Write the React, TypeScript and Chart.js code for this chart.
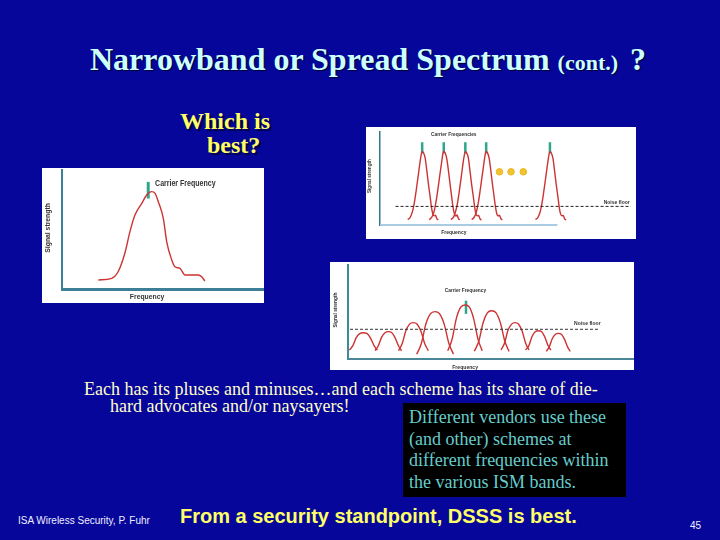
import React, { useEffect, useRef } from 'react';
import { Chart, registerables } from 'chart.js';

Chart.register(...registerables);

// ---------------- Narrowband (single carrier) ----------------
const nbFreq = [18.1, 24.7, 27.9, 31.3, 33.8, 36.3, 39.7, 42.1, 44.6, 46.3, 47.9, 50.4, 52.1, 54.6, 56.2, 58.7, 61.2, 64.5, 67.8, 69.5, 71.1];
const nbLevel = [7.6, 9.0, 14.5, 30.3, 48.2, 62.2, 72.0, 79.0, 81.8, 80.4, 73.4, 59.4, 39.7, 24.4, 18.7, 17.4, 11.8, 11.8, 11.8, 10.3, 6.7];
const nbCarrier = 42.9;
const nbTick = [76, 90];

// ---------------- Frequency hopping (several carriers) ----------------
const hop1 = [[11.0, 6.0], [11.9, 7.7], [12.8, 13.3], [13.6, 22.8], [14.4, 36.8], [15.2, 52.6], [15.9, 66.7], [16.4, 75.4], [16.8, 78.9], [17.3, 77.9], [18.0, 71.9], [18.6, 59.6], [19.3, 43.9], [20.0, 29.8], [20.5, 19.3], [21.0, 12.3], [21.6, 9.8], [22.1, 10.5], [22.6, 7.0], [23.2, 5.3]];
const hop2 = [[19.6, 5.8], [20.5, 7.9], [21.4, 13.0], [22.2, 23.2], [23.0, 37.0], [23.8, 53.0], [24.5, 66.4], [25.0, 75.8], [25.4, 79.2], [25.9, 78.0], [26.6, 71.5], [27.2, 59.9], [27.9, 44.2], [28.6, 29.5], [29.1, 19.0], [29.6, 12.6], [30.2, 9.6], [30.7, 10.8], [31.2, 7.2], [31.8, 5.5]];
const hop3 = [[28.2, 6.1], [29.1, 7.6], [30.0, 13.5], [30.8, 22.5], [31.6, 36.5], [32.4, 52.2], [33.1, 66.9], [33.6, 75.2], [34.0, 78.7], [34.5, 77.6], [35.2, 72.2], [35.8, 59.3], [36.5, 43.6], [37.2, 30.1], [37.7, 19.6], [38.2, 12.0], [38.8, 10.0], [39.3, 10.3], [39.8, 6.8], [40.4, 5.2]];
const hop4 = [[36.5, 5.9], [37.4, 7.8], [38.3, 13.1], [39.1, 23.0], [39.9, 37.1], [40.7, 52.8], [41.4, 66.5], [41.9, 75.6], [42.3, 79.0], [42.8, 77.8], [43.5, 71.7], [44.1, 59.7], [44.8, 44.0], [45.5, 29.6], [46.0, 19.4], [46.5, 12.4], [47.1, 9.7], [47.6, 10.6], [48.1, 7.1], [48.7, 5.4]];
const hop5 = [[61.9, 6.0], [62.8, 7.7], [63.7, 13.2], [64.5, 22.9], [65.3, 36.9], [66.1, 52.5], [66.8, 66.6], [67.3, 75.5], [67.7, 78.8], [68.2, 77.7], [68.9, 71.8], [69.5, 59.5], [70.2, 43.8], [70.9, 29.9], [71.4, 19.2], [71.9, 12.2], [72.5, 9.9], [73.0, 10.4], [73.5, 6.9], [74.1, 5.3]];
const hopCarriers = [16.8, 25.4, 34.0, 42.3, 67.7];
const hopTick = [77, 89];
const hopNoiseFloor = 20;
const hopNoiseSpan = [6.2, 99.9];
const hopDotsX = [47.6, 52.2, 57.1];
const hopDotsY = 57.2;
const hopAxisSpan = [0, 70.7];

// ---------------- Direct sequence (spread lobes) ----------------
const lobeA = [[0.5, 9.6], [1.7, 14.2], [2.9, 22.7], [4.1, 27.0], [5.4, 28.0], [6.6, 27.2], [7.9, 22.3], [9.1, 14.4], [10.3, 9.4]];
const lobeB = [[9.5, 8.9], [10.6, 13.8], [11.8, 23.2], [13.0, 28.0], [14.2, 29.1], [15.3, 28.2], [16.5, 22.8], [17.7, 14.1], [18.8, 8.7]];
const lobeC = [[17.7, 8.9], [19.0, 16.2], [20.3, 30.0], [21.6, 37.1], [22.9, 38.7], [24.2, 37.3], [25.6, 29.6], [26.9, 16.5], [28.2, 8.8]];
const lobeD = [[24.1, 5.0], [25.7, 16.2], [27.3, 37.0], [28.9, 48.0], [30.5, 50.4], [32.1, 48.2], [33.8, 36.6], [35.4, 16.5], [37.0, 5.2]];
const lobeE = [[35.0, 8.9], [36.5, 20.8], [38.0, 43.0], [39.5, 54.9], [41.1, 57.4], [42.6, 55.1], [44.1, 42.7], [45.6, 21.2], [47.1, 8.8]];
const lobeF = [[44.3, 8.2], [45.9, 18.8], [47.4, 38.6], [48.9, 49.1], [50.4, 51.4], [51.9, 49.3], [53.5, 38.2], [55.0, 19.2], [56.5, 8.1]];
const lobeG = [[53.7, 9.6], [54.9, 16.7], [56.1, 30.2], [57.4, 37.1], [58.6, 38.7], [59.8, 37.3], [61.1, 29.8], [62.3, 17.1], [63.5, 9.5]];
const lobeH = [[62.3, 9.6], [63.5, 14.5], [64.6, 24.2], [65.7, 29.0], [66.8, 30.1], [67.9, 29.2], [69.0, 23.8], [70.1, 14.9], [71.2, 9.4]];
const lobeI = [[69.6, 8.2], [70.6, 12.8], [71.7, 21.8], [72.8, 26.3], [73.8, 27.3], [74.9, 26.4], [75.9, 21.4], [77.0, 13.2], [78.0, 8.1]];
const dsssCarrier = 41.4;
const dsssTick = [48, 62];
const dsssNoiseFloor = 31.6;
const dsssNoiseSpan = [0.7, 88.4];

// ---------------- helpers ----------------
const RED = '#cc3333';
const TEAL = '#2fa58c';

const pts = (arr) => arr.map(([x, y]) => ({ x, y }));

const curve = (arr, color = RED, width = 1.4) => ({
  data: pts(arr),
  borderColor: color,
  borderWidth: width,
  pointRadius: 0,
  cubicInterpolationMode: 'monotone',
  fill: false,
  clip: false,
});

const segment = (x0, y0, x1, y1, color, width, dash = []) => ({
  data: [{ x: x0, y: y0 }, { x: x1, y: y1 }],
  borderColor: color,
  borderWidth: width,
  borderDash: dash,
  pointRadius: 0,
  tension: 0,
  fill: false,
  clip: false,
});

const makeTextPlugin = (items) => ({
  id: 'slideText',
  afterDatasetsDraw(chart) {
    const { ctx } = chart;
    const xs = chart.scales.x;
    const ys = chart.scales.y;
    items.forEach((it) => {
      ctx.save();
      ctx.font = it.font;
      ctx.fillStyle = it.color || '#222';
      ctx.textAlign = it.align || 'center';
      ctx.textBaseline = 'middle';
      ctx.translate(xs.getPixelForValue(it.x), ys.getPixelForValue(it.y));
      if (it.rotate) ctx.rotate((it.rotate * Math.PI) / 180);
      if (it.sx) ctx.scale(it.sx, 1);
      ctx.fillText(it.text, 0, 0);
      ctx.restore();
    });
  },
});

const axis = (border) => ({
  type: 'linear',
  min: 0,
  max: 100,
  display: true,
  grid: { display: false, drawTicks: false },
  ticks: { display: false },
  border,
});

const baseOptions = (padding, xBorder, yBorder) => ({
  responsive: false,
  animation: false,
  events: [],
  layout: { padding },
  plugins: { legend: { display: false }, tooltip: { enabled: false } },
  scales: { x: axis(xBorder), y: axis(yBorder) },
});

function SlideChart({ left, top, width, height, build }) {
  const ref = useRef(null);
  useEffect(() => {
    const chart = new Chart(ref.current, build());
    return () => chart.destroy();
  }, []);
  return (
    <canvas
      ref={ref}
      width={width}
      height={height}
      style={{ position: 'absolute', left, top, width, height, background: '#ffffff' }}
    />
  );
}

const buildNarrow = () => ({
  type: 'line',
  data: {
    datasets: [
      curve(nbFreq.map((f, i) => [f, nbLevel[i]])),
      segment(nbCarrier, nbTick[0], nbCarrier, nbTick[1], TEAL, 3),
    ],
  },
  options: baseOptions(
    { left: 20, right: 1, top: 2, bottom: 14 },
    { display: true, color: '#3d7f99', width: 3 },
    { display: true, color: '#3d7f99', width: 2 }
  ),
  plugins: [
    makeTextPlugin([
      { text: 'Carrier Frequency', x: 46.3, y: 89, align: 'left', font: 'bold 9px "Liberation Sans", Arial, sans-serif', sx: 0.78, color: '#333' },
      { text: 'Frequency', x: 42.3, y: -6.7, font: 'bold 8px "Liberation Sans", Arial, sans-serif', sx: 0.85, color: '#333' },
      { text: 'Signal strength', x: -7.0, y: 51.3, rotate: -90, font: 'bold 8px "Liberation Sans", Arial, sans-serif', sx: 0.85, color: '#333' },
    ]),
  ],
});

const buildHopping = () => {
  const ticks = [];
  hopCarriers.forEach((c) => {
    ticks.push({ x: c, y: hopTick[0] }, { x: c, y: hopTick[1] }, { x: c, y: null });
  });
  return {
    type: 'line',
    data: {
      datasets: [
        segment(hopAxisSpan[0], 0, hopAxisSpan[1], 0, '#a9cce3', 2),
        segment(hopNoiseSpan[0], hopNoiseFloor, hopNoiseSpan[1], hopNoiseFloor, '#222', 1, [3, 2]),
        curve(hop1),
        curve(hop2),
        curve(hop3),
        curve(hop4),
        curve(hop5),
        {
          data: ticks,
          borderColor: TEAL,
          borderWidth: 2.5,
          pointRadius: 0,
          spanGaps: false,
          tension: 0,
          clip: false,
        },
        {
          data: hopDotsX.map((x) => ({ x, y: hopDotsY })),
          showLine: false,
          pointRadius: 3.3,
          pointBackgroundColor: '#f2c232',
          pointBorderColor: '#e8b820',
          pointBorderWidth: 1,
        },
      ],
    },
    options: baseOptions(
      { left: 14, right: 4, top: 3, bottom: 14 },
      { display: false },
      { display: true, color: '#2d7a88', width: 1.5 }
    ),
    plugins: [
      makeTextPlugin([
        { text: 'Carrier Frequencies', x: 29.4, y: 98, font: 'bold 6px "Liberation Sans", Arial, sans-serif', sx: 0.8, color: '#333' },
        { text: 'Noise floor', x: 99.5, y: 24, align: 'right', font: 'bold 5px "Liberation Sans", Arial, sans-serif', color: '#333' },
        { text: 'Frequency', x: 29.4, y: -8.4, font: 'bold 5px "Liberation Sans", Arial, sans-serif', color: '#333' },
        { text: 'Signal strength', x: -4.0, y: 52.6, rotate: -90, font: 'bold 5.5px "Liberation Sans", Arial, sans-serif', sx: 0.85, color: '#333' },
      ]),
    ],
  };
};

const buildDirect = () => ({
  type: 'line',
  data: {
    datasets: [
      segment(dsssNoiseSpan[0], dsssNoiseFloor, dsssNoiseSpan[1], dsssNoiseFloor, '#333', 1, [3, 2]),
      curve(lobeA),
      curve(lobeB),
      curve(lobeC),
      curve(lobeD),
      curve(lobeE),
      curve(lobeF),
      curve(lobeG),
      curve(lobeH),
      curve(lobeI),
      segment(dsssCarrier, dsssTick[0], dsssCarrier, dsssTick[1], TEAL, 2.5),
    ],
  },
  options: baseOptions(
    { left: 18, right: 1, top: 3, bottom: 11 },
    { display: true, color: '#4a8799', width: 2 },
    { display: true, color: '#3d8a99', width: 2 }
  ),
  plugins: [
    makeTextPlugin([
      { text: 'Carrier Frequency', x: 41.2, y: 72.7, font: 'bold 6px "Liberation Sans", Arial, sans-serif', sx: 0.8, color: '#333' },
      { text: 'Noise floor', x: 84, y: 38.3, font: 'bold 6px "Liberation Sans", Arial, sans-serif', sx: 0.85, color: '#333' },
      { text: 'Frequency', x: 41.1, y: -9.3, font: 'bold 6px "Liberation Sans", Arial, sans-serif', sx: 0.85, color: '#333' },
      { text: 'Signal strength', x: -4.6, y: 52, rotate: -90, font: 'bold 6px "Liberation Sans", Arial, sans-serif', sx: 0.8, color: '#333' },
    ]),
  ],
});

const serif = '"Liberation Serif", "Times New Roman", serif';
const sans = '"Liberation Sans", Arial, sans-serif';

export default function App() {
  return (
    <div
      style={{
        position: 'fixed',
        left: 0,
        top: 0,
        width: 720,
        height: 540,
        background: '#06069a',
        overflow: 'hidden',
      }}
    >
      <div
        style={{
          position: 'absolute',
          left: 90,
          top: 43,
          fontFamily: serif,
          fontWeight: 'bold',
          fontSize: 32,
          lineHeight: '32px',
          color: '#ccffff',
          whiteSpace: 'nowrap',
          textShadow: '1px 1px 1px #000033',
        }}
      >
        Narrowband or Spread Spectrum <span style={{ fontSize: 22 }}>(cont.)</span>
        <span style={{ marginLeft: 4 }}> ?</span>
      </div>

      <div style={{ position: 'absolute', left: 180, top: 109, fontFamily: serif, fontWeight: 'bold', fontSize: 24, lineHeight: '24px', color: '#ffff66', textShadow: '2px 2px 1px #000044', whiteSpace: 'nowrap' }}>
        Which is
      </div>
      <div style={{ position: 'absolute', left: 207, top: 133, fontFamily: serif, fontWeight: 'bold', fontSize: 24, lineHeight: '24px', color: '#ffff66', textShadow: '2px 2px 1px #000044', whiteSpace: 'nowrap' }}>
        best?
      </div>

      <SlideChart left={42} top={168} width={222} height={135} build={buildNarrow} />
      <SlideChart left={366} top={127} width={270} height={112} build={buildHopping} />
      <SlideChart left={330} top={262} width={304} height={108} build={buildDirect} />

      <div style={{ position: 'absolute', left: 84, top: 380, fontFamily: serif, fontSize: 18, lineHeight: '18px', color: '#ffffcc', whiteSpace: 'nowrap' }}>
        Each has its pluses and minuses…and each scheme has its share of die-
      </div>
      <div style={{ position: 'absolute', left: 110, top: 397, fontFamily: serif, fontSize: 18, lineHeight: '18px', color: '#ffffcc', whiteSpace: 'nowrap' }}>
        hard advocates and/or naysayers!
      </div>

      <div
        style={{
          position: 'absolute',
          left: 403,
          top: 403,
          width: 223,
          height: 94,
          background: '#000000',
        }}
      />
      <div
        style={{
          position: 'absolute',
          left: 409,
          top: 407,
          fontFamily: serif,
          fontSize: 18,
          lineHeight: '21.5px',
          color: '#66cccc',
          whiteSpace: 'nowrap',
        }}
      >
        Different vendors use these
        <br />
        (and other) schemes at
        <br />
        different frequencies within
        <br />
        the various ISM bands.
      </div>

      <div style={{ position: 'absolute', left: 180, top: 506, fontFamily: sans, fontWeight: 'bold', fontSize: 20, lineHeight: '20px', color: '#ffff66', whiteSpace: 'nowrap' }}>
        From a security standpoint, DSSS is best.
      </div>
      <div style={{ position: 'absolute', left: 18, top: 516, fontFamily: sans, fontSize: 10, lineHeight: '10px', color: '#eeeeff', whiteSpace: 'nowrap' }}>
        ISA Wireless Security, P. Fuhr
      </div>
      <div style={{ position: 'absolute', left: 690, top: 521, fontFamily: sans, fontSize: 10, lineHeight: '10px', color: '#eeeeff', whiteSpace: 'nowrap' }}>
        45
      </div>
    </div>
  );
}
